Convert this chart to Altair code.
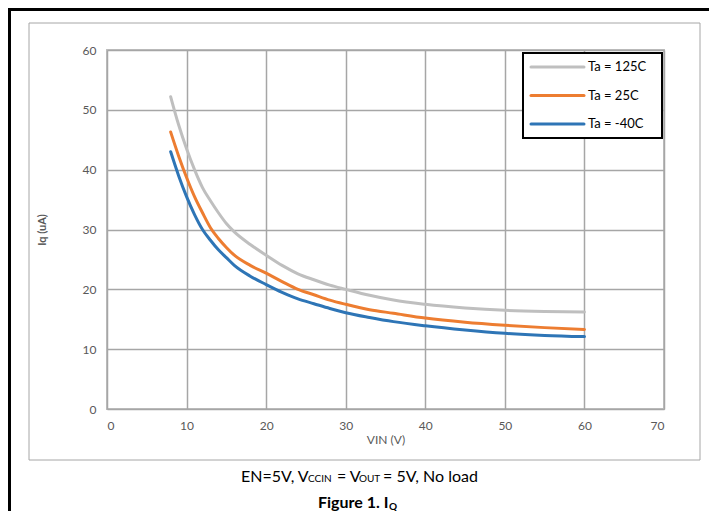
import altair as alt
import pandas as pd

# ---- data ----
vin = [8, 9, 10, 11, 12, 13, 14, 15, 16, 18, 20, 22, 24, 26, 28, 30, 33, 36, 40, 45, 50, 55, 60]
iq_125 = [52.2, 47.5, 43.5, 40.0, 37.0, 34.8, 32.8, 31.0, 29.6, 27.5, 25.7, 24.0, 22.6, 21.6, 20.7, 20.0,
          19.0, 18.2, 17.5, 16.9, 16.5, 16.3, 16.2]
iq_25 = [46.3, 42.3, 38.7, 35.5, 32.8, 30.3, 28.5, 27.0, 25.7, 24.0, 22.7, 21.3, 20.0, 19.1, 18.2, 17.5,
         16.6, 16.0, 15.2, 14.5, 14.0, 13.6, 13.3]
iq_m40 = [43.0, 39.0, 35.5, 32.5, 30.0, 28.2, 26.6, 25.3, 24.0, 22.2, 20.8, 19.5, 18.4, 17.6, 16.8, 16.1,
          15.3, 14.6, 13.9, 13.2, 12.65, 12.3, 12.1]
series_names = ["Ta = 125C", "Ta = 25C", "Ta = -40C"]
series_colors = ["#bfbfbf", "#ed7d31", "#2e75b6"]
x_ticks = [0, 10, 20, 30, 40, 50, 60, 70]
y_ticks = [0, 10, 20, 30, 40, 50, 60]
x_title = "VIN (V)"
y_title = "Iq (uA)"

FONT = "Lato"
one = alt.Data(values=[{}])

rows = []
for name, vals in zip(series_names, [iq_125, iq_25, iq_m40]):
    for v, i in zip(vin, vals):
        rows.append({"vin": v, "iq": i, "series": name})
df = pd.DataFrame(rows)

color_scale = alt.Scale(domain=series_names, range=series_colors)

lines = alt.Chart(df).mark_line(strokeWidth=3, interpolate="monotone", strokeCap="round").encode(
    x=alt.X("vin:Q", scale=alt.Scale(domain=[0, 70], nice=False),
            axis=alt.Axis(values=x_ticks, title=x_title, grid=True, domain=False, ticks=False,
                          labelPadding=11, titlePadding=3)),
    y=alt.Y("iq:Q", scale=alt.Scale(domain=[0, 60], nice=False),
            axis=alt.Axis(values=y_ticks, title=y_title, grid=True, domain=False, ticks=False,
                          labelPadding=11, titleFontWeight="bold", titleFontSize=11,
                          titleX=-60, titleY=179.5, titleAngle=270)),
    color=alt.Color("series:N", scale=color_scale, legend=None),
)

# outer frames
grey_box = alt.Chart(one).mark_rect(fill=None, stroke="#a6a6a6", strokeWidth=1).encode(
    x=alt.value(-78), x2=alt.value(593), y=alt.value(-27), y2=alt.value(410))
black_top = alt.Chart(one).mark_rule(color="black", strokeWidth=3).encode(
    x=alt.value(-99), x2=alt.value(620), y=alt.value(-40.5))
black_left = alt.Chart(one).mark_rule(color="black", strokeWidth=3).encode(
    x=alt.value(-97.5), y=alt.value(-42), y2=alt.value(470))

# legend
leg_df = pd.DataFrame({"series": series_names})
leg_df["ly"] = [17 + 28.5 * i for i in range(len(series_names))]
leg_box = alt.Chart(one).mark_rect(fill="white", stroke="black", strokeWidth=2).encode(
    x=alt.value(416), x2=alt.value(555), y=alt.value(3), y2=alt.value(88))
leg_lines = alt.Chart(leg_df).mark_rule(strokeWidth=3, strokeCap="round").encode(
    x=alt.value(424), x2=alt.value(477),
    y=alt.Y("ly:Q", scale=None, axis=None),
    color=alt.Color("series:N", scale=color_scale, legend=None))
leg_text = alt.Chart(leg_df).mark_text(align="left", baseline="middle", fontSize=13, font=FONT,
                                       color="black").encode(
    x=alt.value(481), y=alt.Y("ly:Q", scale=None, axis=None), text="series:N")

# caption
def txt(s, x, y, size=16, weight="normal"):
    return alt.Chart(one).mark_text(text=s, align="left", baseline="alphabetic", fontSize=size,
                                    font=FONT, fontWeight=weight, color="black").encode(
        x=alt.value(x), y=alt.value(y))

cap_y = 432
fig_y = 458
caption = [
    txt("EN=5V, V", 134, cap_y),
    txt("CCIN", 201, cap_y, size=10),
    txt("= V", 230, cap_y),
    txt("OUT", 252, cap_y, size=10),
    txt("= 5V, No load", 276, cap_y),
    txt("Figure 1. I", 211, fig_y, weight="bold"),
    txt("Q", 282, fig_y + 2, size=10, weight="bold"),
]

chart = alt.layer(grey_box, black_top, black_left, lines, leg_box, leg_lines, leg_text, *caption).properties(
    width=557, height=359,
    autosize=alt.AutoSizeParams(type="none"),
    padding={"left": 99, "top": 42, "right": 45, "bottom": 102},
).configure_view(
    stroke="#bfbfbf", strokeWidth=2
).configure_axis(
    labelFont=FONT, labelFontSize=12, labelColor="#595959",
    titleFont=FONT, titleFontSize=12, titleColor="#595959", titleFontWeight="normal",
    gridColor="#a6a6a6", gridWidth=1.5,
)

chart.save("out.html", embed_options={"renderer": "svg", "actions": False})
